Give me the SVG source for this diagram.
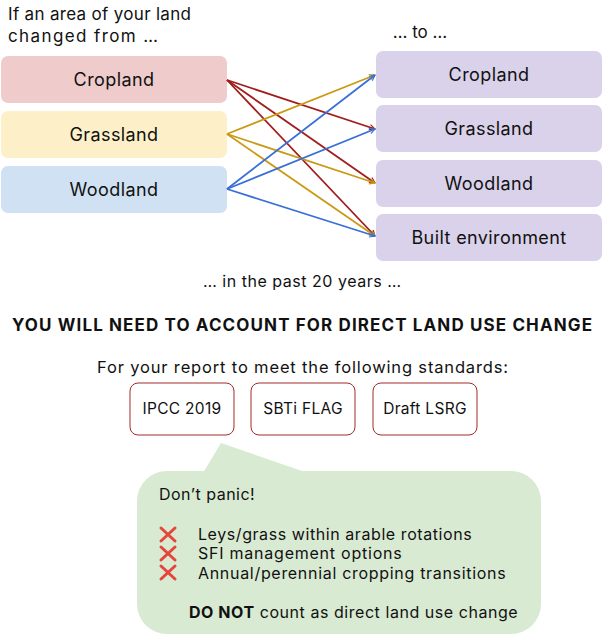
<svg xmlns="http://www.w3.org/2000/svg" width="603" height="641" viewBox="0 0 603 641">
<style>
text{font-family:Inter,"Open Sans","Liberation Sans",sans-serif;fill:#111}
.n{font-size:18px;text-anchor:middle;letter-spacing:0.4px}
.s{font-size:15.5px;text-anchor:middle;letter-spacing:0.3px}
.b{font-size:16px;letter-spacing:0.3px}
.std{fill:#fff;stroke:#a52a2a;stroke-width:1}
.x{stroke:#e5453a;stroke-width:3;stroke-linecap:round}
</style>
<defs>
<marker id="mr" viewBox="0 0 10 10" refX="9" refY="5" markerWidth="7" markerHeight="7" orient="auto" markerUnits="userSpaceOnUse"><path d="M1,1 L9,5 L1,9" fill="none" stroke="#a11d1d" stroke-width="1.6"/></marker>
<marker id="mg" viewBox="0 0 10 10" refX="9" refY="5" markerWidth="7" markerHeight="7" orient="auto" markerUnits="userSpaceOnUse"><path d="M1,1 L9,5 L1,9" fill="none" stroke="#c99a12" stroke-width="1.6"/></marker>
<marker id="mb" viewBox="0 0 10 10" refX="9" refY="5" markerWidth="7" markerHeight="7" orient="auto" markerUnits="userSpaceOnUse"><path d="M1,1 L9,5 L1,9" fill="none" stroke="#3a6fd8" stroke-width="1.6"/></marker>
</defs>
<text x="8" y="20" font-size="17" textLength="183">If an area of your land</text>
<text x="8" y="42" font-size="17" textLength="150">changed from …</text>
<text x="420" y="38" font-size="17" text-anchor="middle">… to …</text>
<g id="src-cropland"><rect x="1" y="56" width="226" height="47" rx="7" fill="#efcbcb"/><text class="n" x="114" y="86">Cropland</text></g>
<g id="src-grassland"><rect x="1" y="111" width="226" height="47" rx="7" fill="#fdf0c8"/><text class="n" x="114" y="141">Grassland</text></g>
<g id="src-woodland"><rect x="1" y="166" width="226" height="47" rx="7" fill="#cfe1f3"/><text class="n" x="114" y="196">Woodland</text></g>
<g id="dst-cropland"><rect x="376" y="51" width="226" height="47" rx="7" fill="#d9d2ea"/><text class="n" x="489" y="81">Cropland</text></g>
<g id="dst-grassland"><rect x="376" y="105" width="226" height="47" rx="7" fill="#d9d2ea"/><text class="n" x="489" y="135">Grassland</text></g>
<g id="dst-woodland"><rect x="376" y="160" width="226" height="47" rx="7" fill="#d9d2ea"/><text class="n" x="489" y="190">Woodland</text></g>
<g id="dst-built"><rect x="376" y="214" width="226" height="47" rx="7" fill="#d9d2ea"/><text class="n" x="489" y="244">Built environment</text></g>
<g id="connectors" fill="none" stroke-width="1.8">
<g stroke="#a11d1d"><line x1="227" y1="80" x2="375" y2="129" marker-end="url(#mr)"/><line x1="227" y1="80" x2="375" y2="183" marker-end="url(#mr)"/><line x1="227" y1="80" x2="375" y2="236" marker-end="url(#mr)"/></g>
<g stroke="#c99a12"><line x1="227" y1="134" x2="375" y2="75" marker-end="url(#mg)"/><line x1="227" y1="134" x2="375" y2="183" marker-end="url(#mg)"/><line x1="227" y1="134" x2="375" y2="236" marker-end="url(#mg)"/></g>
<g stroke="#3a6fd8"><line x1="227" y1="189" x2="375" y2="75" marker-end="url(#mb)"/><line x1="227" y1="189" x2="375" y2="129" marker-end="url(#mb)"/><line x1="227" y1="189" x2="375" y2="236" marker-end="url(#mb)"/></g>
</g>
<text x="203" y="287" font-size="16" textLength="198">… in the past 20 years …</text>
<text x="12" y="331" font-size="17" font-weight="bold" textLength="580">YOU WILL NEED TO ACCOUNT FOR DIRECT LAND USE CHANGE</text>
<text x="97" y="373" font-size="16.5" textLength="411">For your report to meet the following standards:</text>
<g id="std-ipcc"><rect class="std" x="130" y="383" width="104" height="52" rx="8"/><text class="s" x="182" y="414">IPCC 2019</text></g>
<g id="std-sbti"><rect class="std" x="251" y="383" width="104" height="52" rx="8"/><text class="s" x="303" y="414">SBTi FLAG</text></g>
<g id="std-lsrg"><rect class="std" x="373" y="383" width="104" height="52" rx="8"/><text class="s" x="425" y="414">Draft LSRG</text></g>
<g id="callout">
<rect x="137" y="471" width="404" height="163" rx="30" fill="#d9ead3"/>
<polygon points="203,473 221,443 305,472" fill="#d9ead3"/>
<text class="b" x="159" y="500" textLength="96">Don’t panic!</text>
<path class="x" d="M161,528 L175,541 M175,528 L161,541 M161,547 L175,560 M175,547 L161,560 M161,566 L175,579 M175,566 L161,579"/>
<text class="b" x="198" y="540" textLength="274">Leys/grass within arable rotations</text>
<text class="b" x="198" y="559" textLength="204">SFI management options</text>
<text class="b" x="198" y="579" textLength="308">Annual/perennial cropping transitions</text>
<text class="b" x="189" y="618" textLength="329"><tspan font-weight="bold">DO NOT</tspan> count as direct land use change</text>
</g>
</svg>
